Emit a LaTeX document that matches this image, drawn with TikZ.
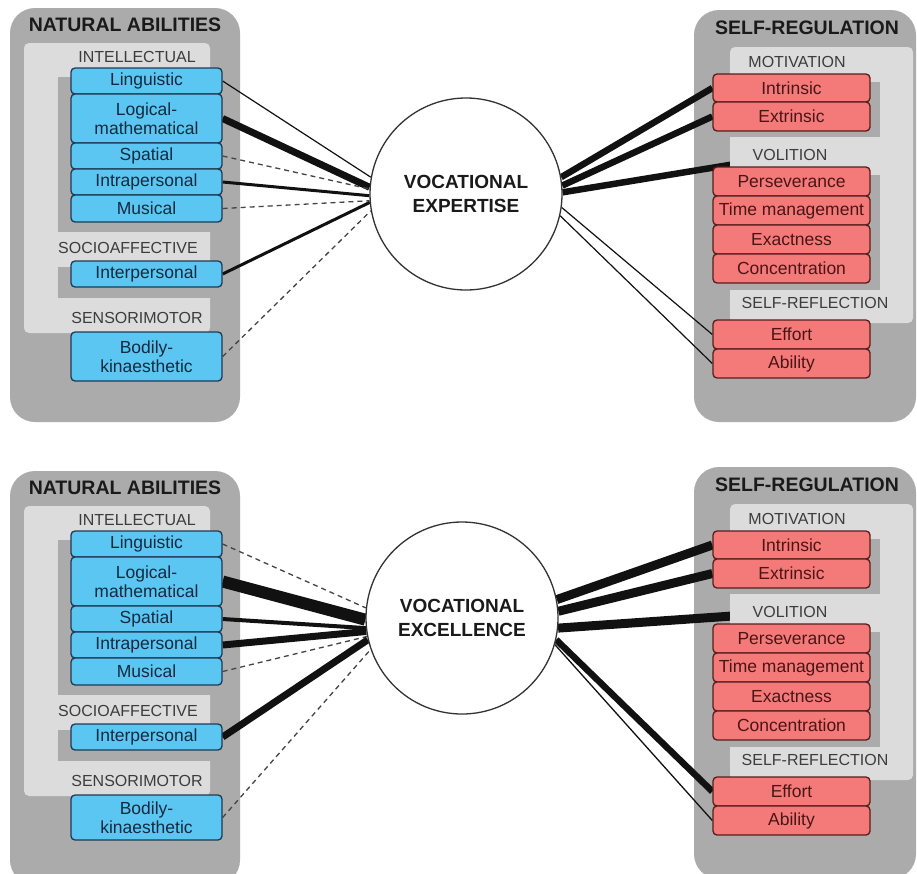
\documentclass[tikz,border=0pt]{standalone}
\usepackage{fontspec}
\setmainfont{Liberation Sans}
\definecolor{outergray}{HTML}{ABABAB}
\definecolor{lightpan}{HTML}{DCDCDC}
\definecolor{bluefill}{HTML}{5BC6F2}
\definecolor{blueline}{HTML}{1E3A55}
\definecolor{bluetext}{HTML}{142A40}
\definecolor{pinkfill}{HTML}{F47A7A}
\definecolor{pinkline}{HTML}{5A1C1C}
\definecolor{pinktext}{HTML}{4A1515}
\definecolor{labtext}{HTML}{3C3C3C}
\definecolor{titletext}{HTML}{1A1A1A}
\definecolor{lncol}{HTML}{111111}
\definecolor{dashcol}{HTML}{444444}
\pgfdeclarelayer{bg}
\pgfdeclarelayer{mid}
\pgfsetlayers{bg,mid,main}
\tikzset{
  outerpanel/.style={fill=outergray, rounded corners=25pt},
  lightpanel/.style={fill=lightpan, rounded corners=5pt},
  shadowrect/.style={fill=outergray},
  boxbase/.style={line width=1.3pt, rounded corners=4pt, inner sep=0pt, align=center,
    font=\fontsize{17.5}{19.5}\selectfont},
  bbox/.style={boxbase, draw=blueline, fill=bluefill, text=bluetext, minimum width=151pt},
  pbox/.style={boxbase, draw=pinkline, fill=pinkfill, text=pinktext, minimum width=157pt},
  paneltitle/.style={font=\fontsize{19.5}{22}\selectfont\bfseries, text=titletext, inner sep=0pt},
  catlabel/.style={font=\fontsize{16}{18}\selectfont, text=labtext, inner sep=0pt},
  centre/.style={circle, draw=black!80, line width=1.3pt, fill=white, minimum size=192pt,
    align=center, font=\fontsize{19}{24}\selectfont\bfseries, text=titletext},
  conn/.style={draw=lncol, line cap=butt},
  dconn/.style={draw=dashcol, line width=1.3pt, dash pattern=on 5pt off 4pt},
}
% left panel: #1 prefix, #2 y offset, #3 bodily box height
\newcommand\LeftPanel[3]{%
\begin{scope}[shift={(0,#2)}]
  \begin{pgfonlayer}{bg}
    \fill[outerpanel] (10,8) rectangle (240,422);
  \end{pgfonlayer}
  \fill[lightpanel] (24,43) rectangle (210,333);
  \fill[shadowrect] (58,77) rectangle (215,232);
  \fill[shadowrect] (58,267) rectangle (215,298);
  \node[paneltitle] (#1title) at (125,25) {NATURAL ABILITIES};
  \node[catlabel] (#1intel) at (137,57) {INTELLECTUAL};
  \node[bbox, minimum height=26pt] (#1ling) at (146.5,81) {Linguistic};
  \node[bbox, minimum height=49pt] (#1log) at (146.5,118.5) {Logical-\\mathematical};
  \node[bbox, minimum height=26pt] (#1spat) at (146.5,156) {Spatial};
  \node[bbox, minimum height=26pt] (#1intra) at (146.5,182) {Intrapersonal};
  \node[bbox, minimum height=27pt] (#1mus) at (146.5,208.5) {Musical};
  \node[catlabel] (#1socio) at (128,248) {SOCIOAFFECTIVE};
  \node[bbox, minimum height=26pt] (#1inter) at (146.5,274) {Interpersonal};
  \node[catlabel] (#1senso) at (137,318) {SENSORIMOTOR};
  \node[bbox, minimum height=#3pt] (#1bod) at (146.5,332+#3/2) {Bodily-\\kinaesthetic};
\end{scope}}
% right panel: #1 prefix, #2 y offset
\newcommand\RightPanel[2]{%
\begin{scope}[shift={(0,#2)}]
  \begin{pgfonlayer}{bg}
    \fill[outerpanel] (694,10) rectangle (916,422);
  \end{pgfonlayer}
  \fill[lightpanel] (730,47) rectangle (913,323);
  \fill[shadowrect] (720,82) rectangle (880,137);
  \fill[shadowrect] (720,175) rectangle (880,290);
  \node[paneltitle] (#1title) at (807,28) {SELF-REGULATION};
  \node[catlabel] (#1motiv) at (797,62) {MOTIVATION};
  \node[pbox, minimum height=28pt] (#1intr) at (791.5,88) {Intrinsic};
  \node[pbox, minimum height=29pt] (#1extr) at (791.5,116.5) {Extrinsic};
  \node[catlabel] (#1vol) at (790,155) {VOLITION};
  \node[pbox, minimum height=29pt] (#1pers) at (791.5,181.5) {Perseverance};
  \node[pbox, minimum height=29pt] (#1time) at (791.5,210.5) {Time management};
  \node[pbox, minimum height=29pt] (#1exact) at (791.5,239.5) {Exactness};
  \node[pbox, minimum height=29pt] (#1conc) at (791.5,268.5) {Concentration};
  \node[catlabel] (#1refl) at (815,303) {SELF-REFLECTION};
  \node[pbox, minimum height=29pt] (#1eff) at (791.5,334.5) {Effort};
  \node[pbox, minimum height=29pt] (#1abil) at (791.5,363.5) {Ability};
\end{scope}}
\begin{document}
\begin{tikzpicture}[x=1pt,y=-1pt]
\useasboundingbox (0,0) rectangle (917,873);
\begin{pgfonlayer}{bg}
  \fill[white] (0,0) rectangle (917,873);
\end{pgfonlayer}
% ---------- top ----------
\LeftPanel{T}{0}{49}
\RightPanel{T}{0}
\node[centre] (Tc) at (466,194) {VOCATIONAL\\EXPERTISE};
\begin{pgfonlayer}{mid}
  \draw[conn, line width=1.2pt] (Tling.east) -- (Tc.170);
  \draw[conn, line width=7pt] (Tlog.east) -- (Tc.176);
  \draw[dconn] (Tspat.east) -- (Tc.177);
  \draw[conn, line width=3pt] (Tintra.east) -- (Tc.181);
  \draw[dconn] (Tmus.east) -- (Tc.184);
  \draw[conn, line width=3pt] (Tinter.east) -- (Tc.185);
  \draw[dconn] (Tbod.east) -- (Tc.190);
  \draw[conn, line width=6.5pt] (Tc.10) -- (Tintr.west);
  \draw[conn, line width=6.5pt] (Tc.5) -- (Textr.west);
  \draw[conn, line width=6.5pt] (Tc.1) -- (Tvol);
  \draw[conn, line width=1.2pt] (Tc.352) -- (Teff.west);
  \draw[conn, line width=1.2pt] (Tc.347) -- (Tabil.west);
\end{pgfonlayer}
% ---------- bottom ----------
\LeftPanel{B}{463}{45}
\RightPanel{B}{457}
\node[centre] (Bc) at (462,618) {VOCATIONAL\\EXCELLENCE};
\begin{pgfonlayer}{mid}
  \draw[dconn] (Bling.east) -- (Bc.174);
  \draw[conn, line width=12pt] (Blog.east) -- (Bc.181);
  \draw[conn, line width=4pt] (Bspat.east) -- (Bc.186);
  \draw[conn, line width=7pt] (Bintra.east) -- (Bc.188.5);
  \draw[dconn] (Bmus.east) -- (Bc.191.5);
  \draw[conn, line width=7pt] (Binter.east) -- (Bc.193);
  \draw[dconn] (Bbod.east) -- (Bc.199);
  \draw[conn, line width=9pt] (Bc.11) -- (Bintr.west);
  \draw[conn, line width=9pt] (Bc.4) -- (Bextr.west);
  \draw[conn, line width=9pt] (Bc.354) -- (Bvol);
  \draw[conn, line width=6.5pt] (Bc.347) -- (Beff.west);
  \draw[conn, line width=1.3pt] (Bc.344) -- (Babil.west);
\end{pgfonlayer}
\end{tikzpicture}
\end{document}
